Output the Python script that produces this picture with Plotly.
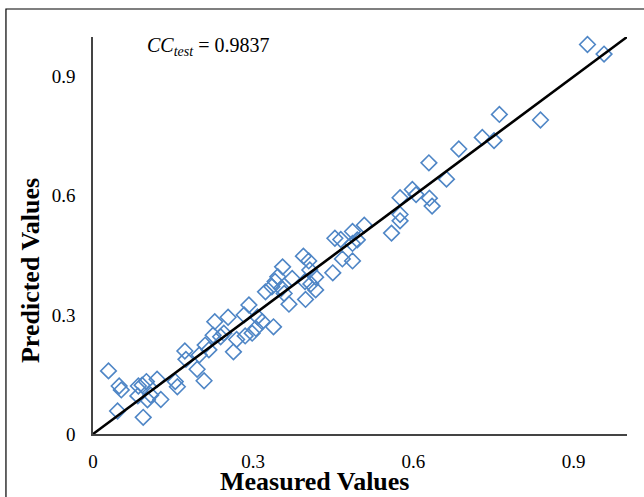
import plotly.graph_objects as go

measured = [0.029, 0.049, 0.053, 0.046, 0.094, 0.084, 0.085, 0.092, 0.100, 0.102,
            0.108, 0.120, 0.127, 0.154, 0.158, 0.172, 0.174, 0.195, 0.208, 0.199,
            0.210, 0.217, 0.228, 0.225, 0.239, 0.245, 0.253, 0.263, 0.269, 0.285,
            0.283, 0.292, 0.298, 0.305, 0.308, 0.317, 0.323, 0.338, 0.335, 0.353,
            0.367, 0.358, 0.341, 0.398, 0.397, 0.417, 0.408, 0.355, 0.394, 0.404,
            0.406, 0.417, 0.373, 0.346, 0.449, 0.453, 0.467, 0.464, 0.486, 0.495,
            0.486, 0.486, 0.508, 0.559, 0.575, 0.575, 0.575, 0.598, 0.605, 0.630,
            0.635, 0.629, 0.662, 0.685, 0.729, 0.751, 0.761, 0.838, 0.926, 0.957]
predicted = [0.159, 0.121, 0.111, 0.058, 0.042, 0.096, 0.121, 0.123, 0.132, 0.086,
             0.098, 0.138, 0.087, 0.132, 0.119, 0.209, 0.188, 0.163, 0.134, 0.199,
             0.224, 0.212, 0.283, 0.249, 0.245, 0.254, 0.294, 0.207, 0.238, 0.247,
             0.300, 0.325, 0.254, 0.266, 0.295, 0.283, 0.358, 0.270, 0.371, 0.367,
             0.327, 0.354, 0.384, 0.339, 0.384, 0.363, 0.378, 0.421, 0.448, 0.436,
             0.413, 0.395, 0.392, 0.396, 0.406, 0.493, 0.441, 0.490, 0.510, 0.489,
             0.480, 0.436, 0.526, 0.506, 0.537, 0.553, 0.595, 0.616, 0.603, 0.594,
             0.574, 0.683, 0.642, 0.718, 0.747, 0.739, 0.805, 0.791, 0.981, 0.957]
ref_line = [0, 1]
tick_vals = [0, 0.3, 0.6, 0.9]
tick_text = ["0", "0.3", "0.6", "0.9"]
x_title = "Measured Values"
y_title = "Predicted Values"

FONT = "Liberation Serif, Times New Roman, serif"

fig = go.Figure()
fig.add_trace(go.Scatter(x=measured, y=predicted, mode="markers",
                         marker=dict(symbol="diamond-open", size=12, color="#4f86c6",
                                     line=dict(width=1.6, color="#4f86c6")),
                         showlegend=False, cliponaxis=False))
fig.add_trace(go.Scatter(x=ref_line, y=ref_line, mode="lines",
                         line=dict(color="black", width=2.6), showlegend=False))

fig.update_layout(
    width=644, height=497,
    margin=dict(l=93, r=17, t=37, b=63, autoexpand=False),
    paper_bgcolor="white", plot_bgcolor="white",
    font=dict(family=FONT, size=19, color="black"),
    xaxis=dict(range=[0, 1], tickvals=tick_vals, ticktext=tick_text,
               showgrid=False, zeroline=False, showline=True, linecolor="#444444",
               linewidth=1.5, ticks="", ticklabelstandoff=9, automargin=False),
    yaxis=dict(range=[0, 1], tickvals=tick_vals, ticktext=tick_text,
               showgrid=False, zeroline=False, showline=True, linecolor="#444444",
               linewidth=1.5, ticks="", ticklabelstandoff=12, automargin=False),
    shapes=[dict(type="rect", xref="paper", yref="paper",
                 x0=-0.163, y0=-0.2, x1=1.2, y1=1.0705,
                 line=dict(color="black", width=1.2), fillcolor="rgba(0,0,0,0)", layer="below")],
    annotations=[
        dict(xref="x", yref="y", x=0.097, y=0.975, xanchor="left", yanchor="middle",
             text="<i>CC</i><sub><i>test</i></sub> = 0.9837", showarrow=False,
             font=dict(size=20, family=FONT)),
        dict(xref="paper", yref="paper", x=0.416, y=-0.1184, xanchor="center", yanchor="middle",
             text="<b>" + x_title + "</b>", showarrow=False, borderpad=0,
             font=dict(size=26, family=FONT)),
        dict(xref="paper", yref="paper", x=-0.118, y=0.413, xanchor="center", yanchor="middle",
             text="<b>" + y_title + "</b>", showarrow=False, textangle=-90, borderpad=0,
             font=dict(size=26, family=FONT)),
    ],
)

fig.write_html("out.html", config={"displayModeBar": False},
               post_script="document.body.style.margin='0';document.body.style.overflow='hidden';")
